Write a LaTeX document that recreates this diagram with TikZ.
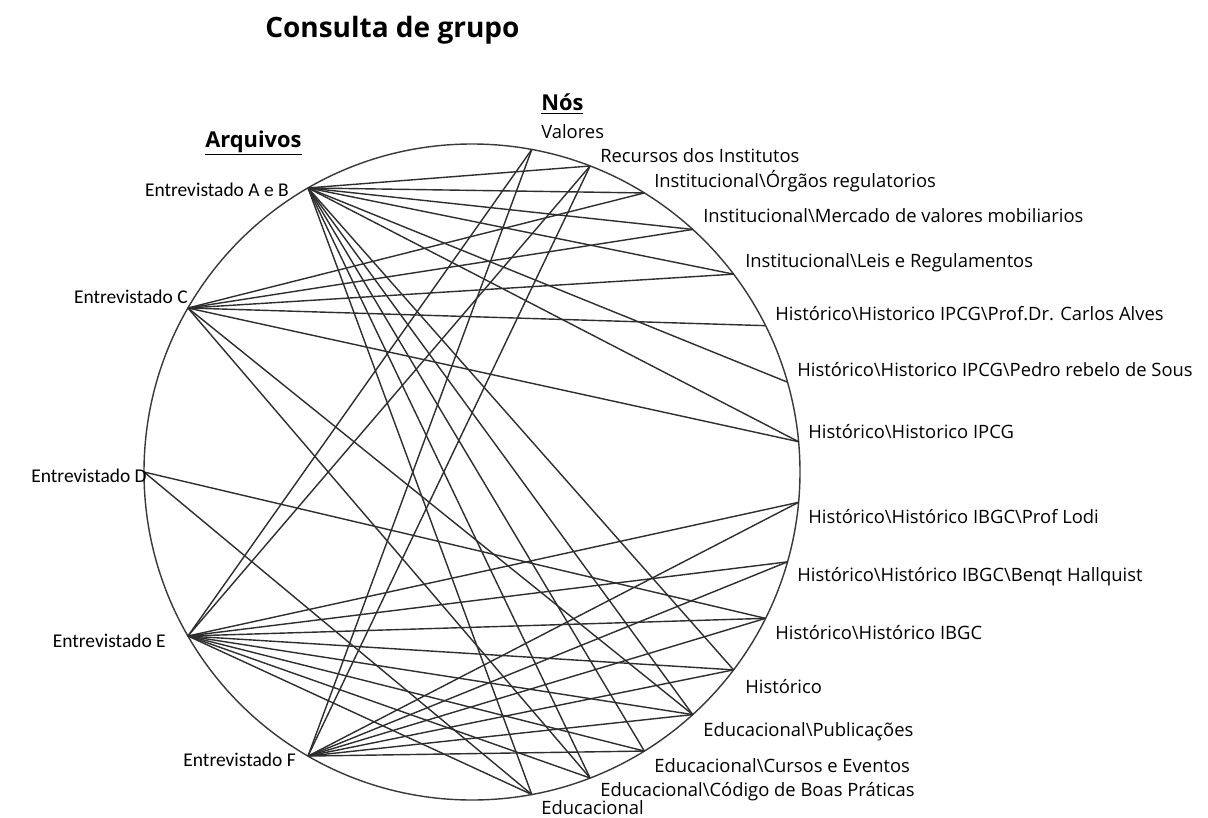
\documentclass[tikz,border=0pt]{standalone}
\usepackage{fontspec}
\setmainfont{Open Sans}
\newfontfamily\leftfont{Carlito}
\begin{document}
\begin{tikzpicture}[x=0.75pt,y=-0.75pt,
  edge/.style={draw=black!82, line width=1.05pt},
  rlab/.style={anchor=west, inner sep=0pt, font=\fontsize{13.8}{15}\selectfont},
  llab/.style={anchor=east, inner sep=0pt, font=\leftfont\fontsize{14.6}{16}\selectfont}]
\useasboundingbox (0,0) rectangle (1208,818);
\fill[white] (0,0) rectangle (1208,818);
\def\cx{472}\def\cy{472}\def\R{328}
\draw[line width=1.05pt, black!78] (\cx,\cy) circle (\R);
% left nodes
\foreach \n/\a in {AB/120,C/150,D/180,E/210,F/240}
  \coordinate (\n) at ({\cx+\R*cos(\a)},{\cy-\R*sin(\a)});
% right nodes
\foreach \n [count=\k from 0] in {Val,Rec,Org,Mer,Lei,Car,Ped,IPCG,Lod,Ben,IBGC,His,Pub,Cur,Cod,Edu}
  \coordinate (\n) at ({\cx+\R*cos(79.5-10.6*\k)},{\cy-\R*sin(79.5-10.6*\k)});
% edges
\foreach \t in {Rec,Org,Mer,Lei,Ped,IPCG,His,Pub,Cur,Cod,Edu} \draw[edge] (AB) -- (\t);
\foreach \t in {Org,Mer,Lei,Car,IPCG,Pub,Cod} \draw[edge] (C) -- (\t);
\foreach \t in {IBGC,Edu} \draw[edge] (D) -- (\t);
\foreach \t in {Val,Rec,Lod,Ben,IBGC,His,Pub,Cur,Cod,Edu} \draw[edge] (E) -- (\t);
\foreach \t in {Val,Rec,Lod,Ben,IBGC,His,Pub,Cur} \draw[edge] (F) -- (\t);
% labels
\node[anchor=west,inner sep=0pt,font=\bfseries\fontsize{21}{24}\selectfont] (title) at (265,30) {Consulta de grupo};
\node[anchor=west,inner sep=0pt,font=\bfseries\fontsize{16.4}{18}\selectfont] (nos) at (541,104) {\underline{Nós}};
\node[anchor=west,inner sep=0pt,font=\bfseries\fontsize{16.4}{18}\selectfont] (arq) at (205,143) {\underline{Arquivos}};
\node[llab] (lAB) at (289,190) {Entrevistado A e B};
\node[llab] (lC) at (188,297) {Entrevistado C};
\node[llab] (lD) at (147,476) {Entrevistado D};
\node[llab] (lE) at (166,641) {Entrevistado E};
\node[llab] (lF) at (296,760) {Entrevistado F};
\node[rlab] (lVal) at (541,132) {Valores};
\node[rlab] (lRec) at (600,156) {Recursos dos Institutos};
\node[rlab] (lOrg) at (654,181) {Institucional\textbackslash Órgãos regulatorios};
\node[rlab] (lMer) at (703,216) {Institucional\textbackslash Mercado de valores mobiliarios};
\node[rlab] (lLei) at (745,263) {Institucional\textbackslash Leis e Regulamentos};
\node[rlab] (lCar) at (775,314) {Histórico\textbackslash Historico IPCG\textbackslash Prof.Dr. Carlos Alves};
\node[rlab] (lPed) at (797,370) {Histórico\textbackslash Historico IPCG\textbackslash Pedro rebelo de Sous};
\node[rlab] (lIPCG) at (808,432) {Histórico\textbackslash Historico IPCG};
\node[rlab] (lLod) at (808,517) {Histórico\textbackslash Histórico IBGC\textbackslash Prof Lodi};
\node[rlab] (lBen) at (797,577) {Histórico\textbackslash Histórico IBGC\textbackslash Benqt Hallquist};
\node[rlab] (lIBGC) at (775,633) {Histórico\textbackslash Histórico IBGC};
\node[rlab] (lHis) at (745,687) {Histórico};
\node[rlab] (lPub) at (703,732) {Educacional\textbackslash Publicações};
\node[rlab] (lCur) at (654,766) {Educacional\textbackslash Cursos e Eventos};
\node[rlab] (lCod) at (600,792) {Educacional\textbackslash Código de Boas Práticas};
\node[rlab] (lEdu) at (541,808) {Educacional};
\end{tikzpicture}
\end{document}
